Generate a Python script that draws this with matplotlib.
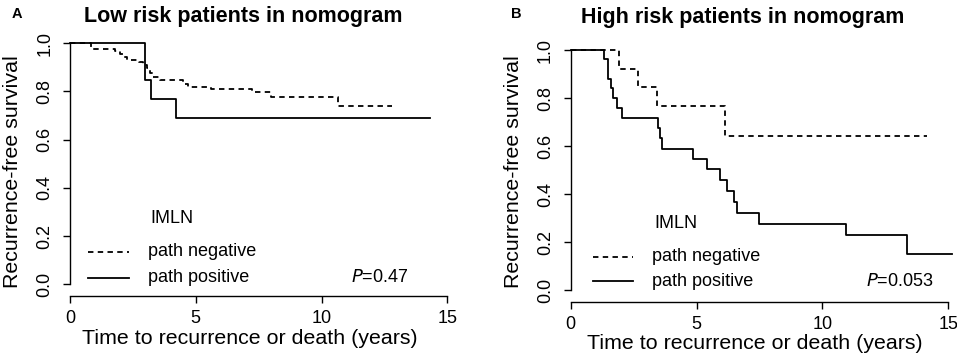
import matplotlib
matplotlib.use("Agg")
import matplotlib.pyplot as plt
from matplotlib.lines import Line2D

plt.rcParams['font.family'] = ['Liberation Sans', 'DejaVu Sans']

# ---------------- data ----------------
# Panel A: low risk
a_neg_t = [0, 0.83, 1.8, 2.0, 2.15, 2.25, 2.75, 2.92, 3.07, 3.18, 3.3, 3.58, 4.5, 4.7, 5.6, 7.22, 7.98, 10.67, 12.79]
a_neg_s = [1.0, 0.976, 0.969, 0.956, 0.945, 0.931, 0.924, 0.91, 0.897, 0.876, 0.858, 0.848, 0.83, 0.818, 0.81, 0.796, 0.777, 0.738, 0.738]
a_pos_t = [0, 3.0, 3.22, 4.21, 14.31]
a_pos_s = [1.0, 0.846, 0.769, 0.692, 0.692]

# Panel B: high risk
b_neg_t = [0, 1.93, 2.69, 3.42, 6.13, 14.14]
b_neg_s = [1.0, 0.923, 0.846, 0.769, 0.641, 0.641]
b_pos_t = [0, 1.34, 1.49, 1.6, 1.69, 1.85, 2.05, 3.46, 3.55, 3.64, 4.84, 5.42, 5.93, 6.2, 6.5, 6.62, 7.5, 10.93, 13.37, 15.14]
b_pos_s = [1.0, 0.961, 0.879, 0.841, 0.799, 0.758, 0.716, 0.674, 0.633, 0.587, 0.546, 0.504, 0.459, 0.413, 0.367, 0.321, 0.275, 0.229, 0.152, 0.152]

x_ticks = [0, 5, 10, 15]
y_ticks = [0.0, 0.2, 0.4, 0.6, 0.8, 1.0]
y_ticklabels = ["0.0", "0.2", "0.4", "0.6", "0.8", "1.0"]
legend_title = "IMLN"
legend_labels = ["path negative", "path positive"]
titles = ["Low risk patients in nomogram", "High risk patients in nomogram"]
panel_letters = ["A", "B"]
p_values = ["0.47", "0.053"]
xlabel = "Time to recurrence or death (years)"
ylabel = "Recurrence-free survival"

# ---------------- layout ----------------
W, H = 957, 360
fig = plt.figure(figsize=(W / 100, H / 100), dpi=100)

axes_pos = [[70 / W, 64 / H, 384.8 / W, 262.4 / H],
            [570.7 / W, 58.3 / H, 385.1 / W, 261.3 / H]]
ylims = [(-0.048, 1.04), (-0.0466, 1.04)]
title_xy = [(243 / W, 1 - 21.7 / H), (742.5 / W, 1 - 22.5 / H)]
letter_xy = [(11.5 / W, 1 - 17.5 / H), (511.5 / W, 1 - 17.5 / H)]
ylabel_xy = [(18.3 / W, 1 - 172 / H), (519 / W, 1 - 172 / H)]
xlabel_x = [0.4665, 0.478]
leg = [dict(h0=0.0468, h1=0.153, tx=0.2035, ty=[0.169, 0.0697], title=(0.2655, 0.296), p=(0.879, 0.0697)),
       dict(h0=0.0587, h1=0.1605, tx=0.212, ty=[0.172, 0.0792], title=(0.2723, 0.300), p=(0.9416, 0.0792))]

data = [((a_neg_t, a_neg_s), (a_pos_t, a_pos_s)),
        ((b_neg_t, b_neg_s), (b_pos_t, b_pos_s))]

lw = 1.3
dash = (0, (3.0, 2.4))
tick_fs = 13
lab_fs = 15.4
leg_fs = 13

for i in range(2):
    ax = fig.add_axes(axes_pos[i])
    (nt, ns), (pt, ps) = data[i]
    ax.plot(nt, ns, drawstyle='steps-post', color='black', lw=lw, linestyle=dash)
    ax.plot(pt, ps, drawstyle='steps-post', color='black', lw=lw, linestyle='-')
    ax.set_xlim(0, 15.3)
    ax.set_ylim(*ylims[i])
    for s in ['top', 'right']:
        ax.spines[s].set_visible(False)
    ax.spines['left'].set_bounds(0, 1)
    ax.spines['bottom'].set_bounds(0, 15)
    ax.spines['left'].set_linewidth(1.0)
    ax.spines['bottom'].set_linewidth(1.0)
    ax.set_xticks(x_ticks)
    ax.set_xticklabels([str(t) for t in x_ticks])
    ax.set_yticks(y_ticks)
    ax.set_yticklabels(y_ticklabels)
    ax.tick_params(axis='both', direction='out', length=5, width=1.0, labelsize=tick_fs)
    ax.tick_params(axis='x', pad=5)
    ax.tick_params(axis='y', pad=7)
    plt.setp(ax.get_yticklabels(), rotation=90, va='center', ha='right')
    ax.patch.set_visible(False)
    ax.set_xlabel(xlabel, fontsize=lab_fs)
    ax.xaxis.set_label_coords(xlabel_x[i], -0.125)
    for line in ax.get_lines():
        line.set_clip_on(False)

    # legend (R style)
    L = leg[i]
    ax.text(L['title'][0], L['title'][1], legend_title, transform=ax.transAxes,
            ha='center', va='center', fontsize=leg_fs)
    for j, (lab, ls) in enumerate(zip(legend_labels, [dash, '-'])):
        ax.add_line(Line2D([L['h0'], L['h1']], [L['ty'][j]] * 2, transform=ax.transAxes,
                           color='black', lw=lw, linestyle=ls))
        ax.text(L['tx'], L['ty'][j], lab, transform=ax.transAxes,
                ha='left', va='center', fontsize=leg_fs)
    ax.text(L['p'][0], L['p'][1], r'$\it{P}$=' + p_values[i], transform=ax.transAxes,
            ha='right', va='center', fontsize=leg_fs)

    fig.text(title_xy[i][0], title_xy[i][1], titles[i], ha='center', va='baseline',
             fontsize=15.5, fontweight='bold')
    fig.text(letter_xy[i][0], letter_xy[i][1], panel_letters[i], ha='left', va='baseline',
             fontsize=10.5, fontweight='bold')
    fig.text(ylabel_xy[i][0], ylabel_xy[i][1], ylabel, rotation=90, rotation_mode='anchor',
             ha='center', va='baseline', fontsize=lab_fs)

fig.savefig("out.png", dpi=100)
